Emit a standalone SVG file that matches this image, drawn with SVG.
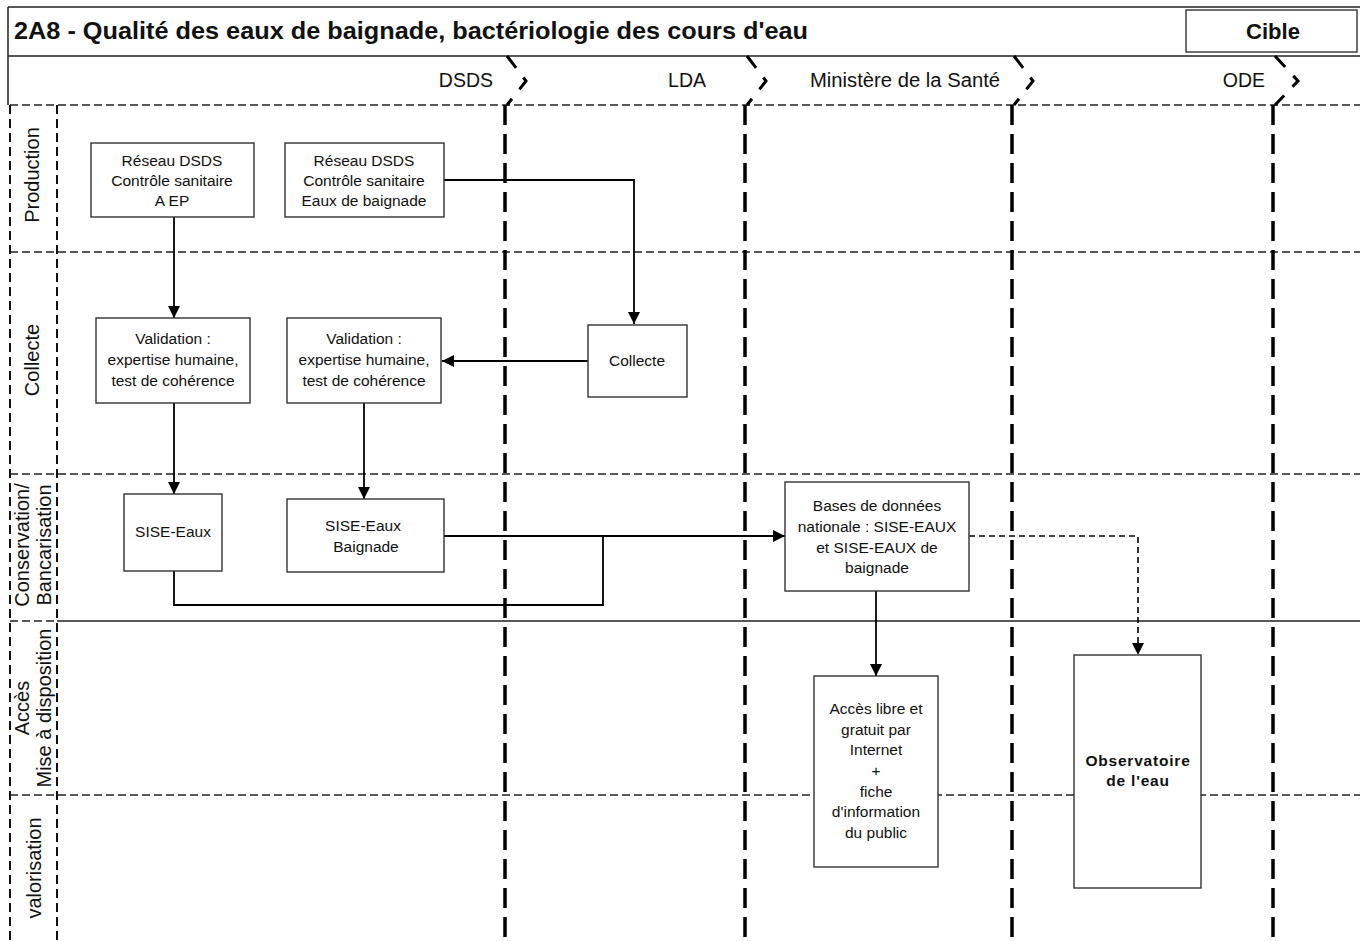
<svg xmlns="http://www.w3.org/2000/svg" width="1360" height="941" viewBox="0 0 1360 941">
<defs>
<style>
.t{font-family:"Liberation Sans",Arial,sans-serif;fill:#111;}
.node rect{fill:#fff;stroke:#333;stroke-width:1.4;}
.nt{font-size:15.5px;text-anchor:middle;}
.hdr{font-size:19.5px;text-anchor:end;}
.rl{font-size:20px;text-anchor:middle;}
.lane{stroke:#000;stroke-width:3.5;stroke-dasharray:20 9;fill:none;}
.chev{stroke:#000;stroke-width:3;stroke-dasharray:15 12;fill:none;}
.hd{stroke:#222;stroke-width:1.5;stroke-dasharray:8 4;fill:none;}
.ld{stroke:#111;stroke-width:2;stroke-dasharray:9 5;fill:none;}
.c{stroke:#000;stroke-width:1.8;fill:none;}
.cd{stroke:#000;stroke-width:1.6;fill:none;stroke-dasharray:6 4;}
</style>
<marker id="ah" markerUnits="userSpaceOnUse" markerWidth="12" markerHeight="12" viewBox="0 0 12 12" refX="12" refY="6" orient="auto">
<path d="M0,0 L12,6 L0,12 Z" fill="#000"/>
</marker>
</defs>
<rect width="1360" height="941" fill="#fff"/>

<g id="frame">
<line x1="8" y1="7" x2="1360" y2="7" stroke="#222" stroke-width="1.5"/>
<line x1="8" y1="56" x2="1360" y2="56" stroke="#222" stroke-width="1.5"/>
<line x1="8" y1="7" x2="8" y2="105" stroke="#222" stroke-width="1.5"/>
<text class="t" x="14" y="39" font-size="23" font-weight="bold" textLength="794" lengthAdjust="spacingAndGlyphs">2A8 - Qualité des eaux de baignade, bactériologie des cours d'eau</text>
</g>

<g id="cible">
<rect x="1186" y="10" width="171" height="42" fill="#fff" stroke="#333" stroke-width="1.4"/>
<text class="t" x="1273" y="39" font-size="22" font-weight="bold" text-anchor="middle">Cible</text>
</g>

<g id="header">
<text class="t hdr" x="493" y="87">DSDS</text>
<text class="t hdr" x="706" y="87">LDA</text>
<text class="t hdr" x="1000" y="87" textLength="190" lengthAdjust="spacingAndGlyphs">Ministère de la Santé</text>
<text class="t hdr" x="1265" y="87">ODE</text>
</g>

<g id="grid">
<line class="hd" x1="10" y1="105" x2="1360" y2="105"/>
<line class="hd" x1="10" y1="252" x2="1360" y2="252"/>
<line class="hd" x1="10" y1="474" x2="1360" y2="474"/>
<line class="hd" x1="10" y1="621" x2="57" y2="621"/>
<line x1="57" y1="621" x2="1360" y2="621" stroke="#222" stroke-width="1.6"/>
<line class="hd" x1="10" y1="795" x2="1360" y2="795"/>
<line class="ld" x1="10" y1="105" x2="10" y2="941"/>
<line class="ld" x1="57" y1="105" x2="57" y2="941"/>
</g>

<g id="lanes">
<polyline class="chev" points="507,56 526,81 507,105"/>
<line class="lane" x1="505" y1="105" x2="505" y2="941"/>
<polyline class="chev" points="747,56 766,81 747,105"/>
<line class="lane" x1="745" y1="105" x2="745" y2="941"/>
<polyline class="chev" points="1014,56 1033,81 1014,105"/>
<line class="lane" x1="1012" y1="105" x2="1012" y2="941"/>
<polyline class="chev" points="1275,56 1298,81 1275,105"/>
<line class="lane" x1="1273" y1="105" x2="1273" y2="941"/>
</g>

<g id="row-labels">
<text class="t rl" transform="translate(39,175) rotate(-90)">Production</text>
<text class="t rl" transform="translate(39,360) rotate(-90)">Collecte</text>
<text class="t rl" transform="translate(29,545) rotate(-90)">Conservation/</text>
<text class="t rl" transform="translate(51,545) rotate(-90)">Bancarisation</text>
<text class="t rl" transform="translate(29,708) rotate(-90)">Accès</text>
<text class="t rl" transform="translate(51,708) rotate(-90)">Mise à disposition</text>
<text class="t rl" transform="translate(41,868) rotate(-90)">valorisation</text>
</g>

<g id="connectors">
<line class="c" x1="174" y1="217" x2="174" y2="318" marker-end="url(#ah)"/>
<polyline class="c" points="444,180 634,180 634,324" marker-end="url(#ah)"/>
<line class="c" x1="588" y1="361" x2="442" y2="361" marker-end="url(#ah)"/>
<line class="c" x1="174" y1="403" x2="174" y2="494" marker-end="url(#ah)"/>
<line class="c" x1="364" y1="403" x2="364" y2="499" marker-end="url(#ah)"/>
<line class="c" x1="444" y1="536" x2="785" y2="536" marker-end="url(#ah)"/>
<polyline class="c" points="174,571 174,605 603,605 603,536" stroke-width="1.4"/>
<line class="c" x1="876" y1="591" x2="876" y2="676" marker-end="url(#ah)"/>
<polyline class="cd" points="969,536 1138,536 1138,655" marker-end="url(#ah)"/>
</g>

<g id="n-reseau-aep" class="node">
<rect x="91" y="143" width="163" height="74"/>
<text class="t nt" x="172" y="166">Réseau DSDS</text>
<text class="t nt" x="172" y="186">Contrôle sanitaire</text>
<text class="t nt" x="172" y="206">A EP</text>
</g>
<g id="n-reseau-baignade" class="node">
<rect x="285" y="143" width="159" height="74"/>
<text class="t nt" x="364" y="166">Réseau DSDS</text>
<text class="t nt" x="364" y="186">Contrôle sanitaire</text>
<text class="t nt" x="364" y="206">Eaux de baignade</text>
</g>
<g id="n-validation-1" class="node">
<rect x="96" y="318" width="154" height="85"/>
<text class="t nt" x="173" y="344">Validation :</text>
<text class="t nt" x="173" y="365">expertise humaine,</text>
<text class="t nt" x="173" y="386">test de cohérence</text>
</g>
<g id="n-validation-2" class="node">
<rect x="287" y="318" width="154" height="85"/>
<text class="t nt" x="364" y="344">Validation :</text>
<text class="t nt" x="364" y="365">expertise humaine,</text>
<text class="t nt" x="364" y="386">test de cohérence</text>
</g>
<g id="n-collecte" class="node">
<rect x="588" y="325" width="99" height="72"/>
<text class="t nt" x="637" y="366">Collecte</text>
</g>
<g id="n-sise-eaux" class="node">
<rect x="124" y="494" width="98" height="77"/>
<text class="t nt" x="173" y="537">SISE-Eaux</text>
</g>
<g id="n-sise-baignade" class="node">
<rect x="287" y="499" width="157" height="73"/>
<text class="t nt" x="363" y="531">SISE-Eaux</text>
<text class="t nt" x="366" y="552">Baignade</text>
</g>
<g id="n-bases" class="node">
<rect x="785" y="482" width="184" height="109"/>
<text class="t nt" x="877" y="511">Bases de données</text>
<text class="t nt" x="877" y="532">nationale : SISE-EAUX</text>
<text class="t nt" x="877" y="553">et SISE-EAUX de</text>
<text class="t nt" x="877" y="573">baignade</text>
</g>
<g id="n-acces" class="node">
<rect x="814" y="676" width="124" height="191"/>
<text class="t nt" x="876" y="714">Accès libre et</text>
<text class="t nt" x="876" y="735">gratuit par</text>
<text class="t nt" x="876" y="755">Internet</text>
<text class="t nt" x="876" y="776">+</text>
<text class="t nt" x="876" y="797">fiche</text>
<text class="t nt" x="876" y="817">d'information</text>
<text class="t nt" x="876" y="838">du public</text>
</g>
<g id="n-observatoire" class="node">
<rect x="1074" y="655" width="127" height="233"/>
<text class="t nt" x="1138" y="766" font-weight="bold" font-size="14" letter-spacing="0.8">Observatoire</text>
<text class="t nt" x="1138" y="786" font-weight="bold" font-size="14" letter-spacing="0.8">de l'eau</text>
</g>
</svg>
